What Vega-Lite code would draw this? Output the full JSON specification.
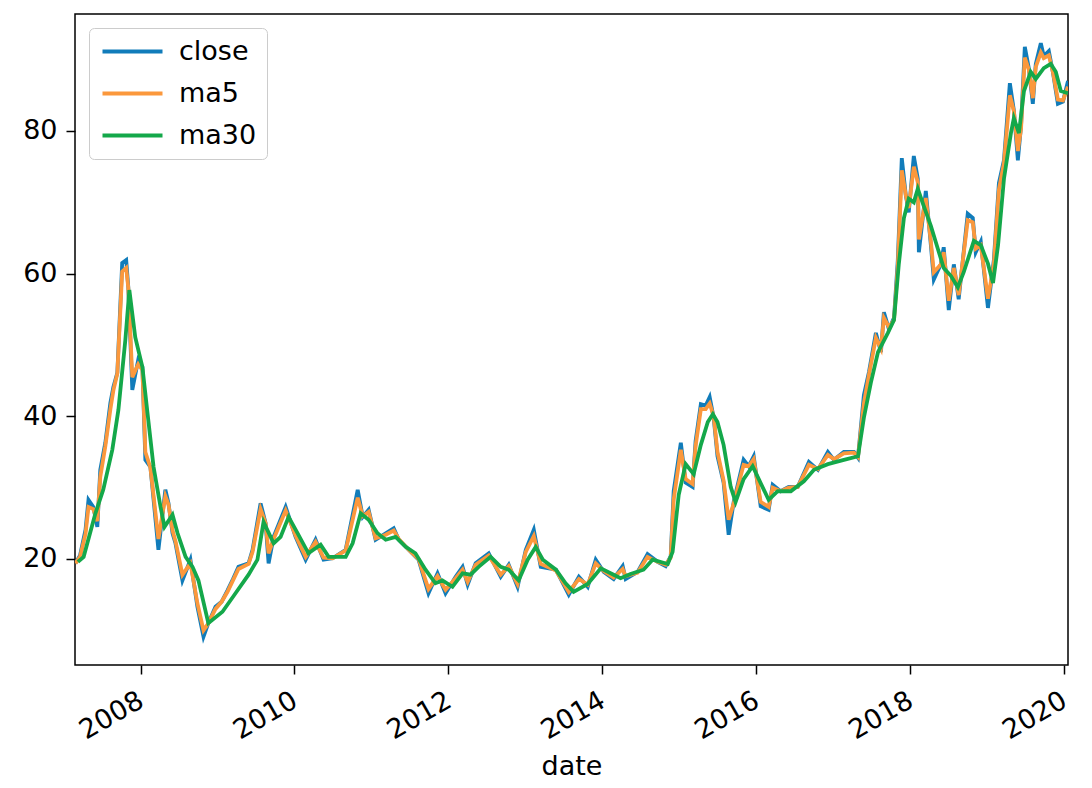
{
  "$schema": "https://vega.github.io/schema/vega-lite/v6.json",
  "width": 993,
  "height": 651,
  "autosize": "none",
  "padding": {"left": 75, "top": 14, "right": 24, "bottom": 123},
  "background": "white",
  "datasets": {
    "px": [
      {"date": "2007-02-26", "close": 19.4, "ma5": 19.4},
      {"date": "2007-03-20", "close": 20.5, "ma5": 20.3},
      {"date": "2007-04-15", "close": 24.1, "ma5": 23.5},
      {"date": "2007-04-29", "close": 28.3, "ma5": 27.3},
      {"date": "2007-05-22", "close": 27.3, "ma5": 27.0},
      {"date": "2007-06-10", "close": 24.5, "ma5": 25.3},
      {"date": "2007-06-24", "close": 32.5, "ma5": 31.5},
      {"date": "2007-07-18", "close": 36.3, "ma5": 35.8},
      {"date": "2007-08-11", "close": 41.9, "ma5": 41.0},
      {"date": "2007-08-25", "close": 44.1, "ma5": 43.6},
      {"date": "2007-09-13", "close": 46.1, "ma5": 46.0},
      {"date": "2007-10-06", "close": 61.5, "ma5": 60.3},
      {"date": "2007-10-25", "close": 61.9, "ma5": 60.8},
      {"date": "2007-11-04", "close": 58.1, "ma5": 58.0},
      {"date": "2007-11-23", "close": 43.7, "ma5": 45.5},
      {"date": "2007-12-21", "close": 47.9, "ma5": 47.3},
      {"date": "2008-01-10", "close": 46.9, "ma5": 46.5},
      {"date": "2008-01-24", "close": 33.9, "ma5": 35.0},
      {"date": "2008-02-17", "close": 32.9, "ma5": 32.8},
      {"date": "2008-03-26", "close": 21.3, "ma5": 22.8},
      {"date": "2008-04-28", "close": 29.7, "ma5": 28.8},
      {"date": "2008-05-13", "close": 27.8, "ma5": 27.6},
      {"date": "2008-06-01", "close": 23.6, "ma5": 24.0},
      {"date": "2008-06-15", "close": 22.2, "ma5": 22.5},
      {"date": "2008-07-18", "close": 17.0, "ma5": 17.8},
      {"date": "2008-08-25", "close": 19.9, "ma5": 19.4},
      {"date": "2008-09-27", "close": 13.3, "ma5": 13.8},
      {"date": "2008-10-26", "close": 9.1, "ma5": 10.0},
      {"date": "2008-11-18", "close": 11.0, "ma5": 11.0},
      {"date": "2008-12-22", "close": 13.3, "ma5": 13.0},
      {"date": "2009-01-20", "close": 14.0, "ma5": 14.0},
      {"date": "2009-02-17", "close": 15.6, "ma5": 15.4},
      {"date": "2009-03-15", "close": 17.2, "ma5": 17.0},
      {"date": "2009-04-10", "close": 18.9, "ma5": 18.6},
      {"date": "2009-05-28", "close": 19.4, "ma5": 19.3},
      {"date": "2009-06-16", "close": 21.3, "ma5": 21.0},
      {"date": "2009-07-24", "close": 27.8, "ma5": 27.0},
      {"date": "2009-08-17", "close": 25.0, "ma5": 25.0},
      {"date": "2009-08-31", "close": 19.4, "ma5": 20.8},
      {"date": "2009-09-24", "close": 23.1, "ma5": 22.8},
      {"date": "2009-11-20", "close": 27.3, "ma5": 26.8},
      {"date": "2010-01-06", "close": 23.1, "ma5": 23.3},
      {"date": "2010-02-23", "close": 19.9, "ma5": 20.3},
      {"date": "2010-04-11", "close": 22.7, "ma5": 22.4},
      {"date": "2010-05-19", "close": 19.9, "ma5": 20.2},
      {"date": "2010-07-01", "close": 20.1, "ma5": 20.1},
      {"date": "2010-09-01", "close": 21.3, "ma5": 21.2},
      {"date": "2010-10-28", "close": 29.7, "ma5": 28.6},
      {"date": "2010-11-21", "close": 25.9, "ma5": 26.0},
      {"date": "2010-12-19", "close": 26.9, "ma5": 26.6},
      {"date": "2011-01-21", "close": 22.7, "ma5": 22.9},
      {"date": "2011-03-10", "close": 23.6, "ma5": 23.4},
      {"date": "2011-04-17", "close": 24.3, "ma5": 24.0},
      {"date": "2011-05-11", "close": 22.7, "ma5": 22.8},
      {"date": "2011-06-27", "close": 21.3, "ma5": 21.3},
      {"date": "2011-08-13", "close": 19.9, "ma5": 20.0},
      {"date": "2011-09-29", "close": 15.2, "ma5": 15.8},
      {"date": "2011-11-11", "close": 18.0, "ma5": 17.6},
      {"date": "2011-12-19", "close": 15.2, "ma5": 15.7},
      {"date": "2012-02-05", "close": 17.5, "ma5": 17.3},
      {"date": "2012-03-09", "close": 18.9, "ma5": 18.5},
      {"date": "2012-04-02", "close": 16.4, "ma5": 16.8},
      {"date": "2012-05-10", "close": 19.4, "ma5": 19.2},
      {"date": "2012-07-11", "close": 20.8, "ma5": 20.5},
      {"date": "2012-09-06", "close": 17.5, "ma5": 17.8},
      {"date": "2012-10-14", "close": 19.2, "ma5": 19.0},
      {"date": "2012-11-25", "close": 16.1, "ma5": 16.5},
      {"date": "2013-01-03", "close": 21.3, "ma5": 21.0},
      {"date": "2013-02-10", "close": 24.1, "ma5": 23.2},
      {"date": "2013-03-15", "close": 18.9, "ma5": 19.3},
      {"date": "2013-05-26", "close": 18.5, "ma5": 18.4},
      {"date": "2013-07-26", "close": 15.0, "ma5": 15.4},
      {"date": "2013-09-12", "close": 17.5, "ma5": 17.2},
      {"date": "2013-10-24", "close": 16.1, "ma5": 16.4},
      {"date": "2013-12-01", "close": 19.9, "ma5": 19.4},
      {"date": "2014-01-08", "close": 18.2, "ma5": 18.3},
      {"date": "2014-02-24", "close": 17.2, "ma5": 17.4},
      {"date": "2014-04-08", "close": 19.0, "ma5": 18.6},
      {"date": "2014-04-22", "close": 17.2, "ma5": 17.6},
      {"date": "2014-06-18", "close": 18.2, "ma5": 18.1},
      {"date": "2014-08-04", "close": 20.7, "ma5": 20.3},
      {"date": "2014-09-21", "close": 19.6, "ma5": 19.6},
      {"date": "2014-10-29", "close": 19.0, "ma5": 19.2},
      {"date": "2014-11-22", "close": 20.4, "ma5": 20.2},
      {"date": "2014-12-06", "close": 29.5, "ma5": 28.3},
      {"date": "2015-01-09", "close": 36.3, "ma5": 35.3},
      {"date": "2015-02-01", "close": 30.7, "ma5": 31.2},
      {"date": "2015-03-06", "close": 30.1, "ma5": 30.5},
      {"date": "2015-03-20", "close": 36.5, "ma5": 35.8},
      {"date": "2015-04-14", "close": 41.7, "ma5": 41.0},
      {"date": "2015-05-07", "close": 41.5, "ma5": 41.0},
      {"date": "2015-05-26", "close": 42.7, "ma5": 41.8},
      {"date": "2015-06-14", "close": 39.8, "ma5": 40.0},
      {"date": "2015-07-02", "close": 34.4, "ma5": 35.0},
      {"date": "2015-07-31", "close": 30.7, "ma5": 31.0},
      {"date": "2015-08-24", "close": 23.4, "ma5": 25.5},
      {"date": "2015-09-17", "close": 28.0, "ma5": 27.8},
      {"date": "2015-11-03", "close": 33.9, "ma5": 33.2},
      {"date": "2015-11-27", "close": 33.0, "ma5": 33.0},
      {"date": "2015-12-21", "close": 34.4, "ma5": 34.0},
      {"date": "2016-01-23", "close": 27.4, "ma5": 28.0},
      {"date": "2016-03-01", "close": 26.9, "ma5": 27.3},
      {"date": "2016-03-20", "close": 30.4, "ma5": 30.0},
      {"date": "2016-04-27", "close": 29.5, "ma5": 29.5},
      {"date": "2016-06-04", "close": 30.1, "ma5": 30.0},
      {"date": "2016-07-17", "close": 30.1, "ma5": 30.1},
      {"date": "2016-09-08", "close": 33.6, "ma5": 33.2},
      {"date": "2016-10-21", "close": 32.5, "ma5": 32.6},
      {"date": "2016-12-07", "close": 35.0, "ma5": 34.6},
      {"date": "2017-01-05", "close": 33.9, "ma5": 34.0},
      {"date": "2017-02-21", "close": 35.0, "ma5": 34.8},
      {"date": "2017-04-10", "close": 35.0, "ma5": 34.9},
      {"date": "2017-04-29", "close": 34.2, "ma5": 34.3},
      {"date": "2017-05-27", "close": 43.0, "ma5": 41.8},
      {"date": "2017-06-20", "close": 46.2, "ma5": 45.8},
      {"date": "2017-07-23", "close": 51.7, "ma5": 51.0},
      {"date": "2017-08-16", "close": 49.0, "ma5": 49.5},
      {"date": "2017-08-30", "close": 54.6, "ma5": 53.8},
      {"date": "2017-09-23", "close": 52.2, "ma5": 52.5},
      {"date": "2017-10-17", "close": 53.8, "ma5": 53.5},
      {"date": "2017-11-04", "close": 61.9, "ma5": 61.0},
      {"date": "2017-11-23", "close": 76.2, "ma5": 74.5},
      {"date": "2017-12-12", "close": 71.0, "ma5": 71.0},
      {"date": "2017-12-26", "close": 68.6, "ma5": 69.2},
      {"date": "2018-01-19", "close": 76.5, "ma5": 75.0},
      {"date": "2018-02-07", "close": 73.3, "ma5": 72.8},
      {"date": "2018-02-12", "close": 63.0, "ma5": 64.8},
      {"date": "2018-03-17", "close": 71.6, "ma5": 70.6},
      {"date": "2018-04-10", "close": 64.0, "ma5": 64.5},
      {"date": "2018-04-24", "close": 59.2, "ma5": 60.2},
      {"date": "2018-05-27", "close": 61.3, "ma5": 61.3},
      {"date": "2018-06-10", "close": 63.7, "ma5": 63.0},
      {"date": "2018-07-04", "close": 54.9, "ma5": 56.2},
      {"date": "2018-07-28", "close": 61.3, "ma5": 60.8},
      {"date": "2018-08-20", "close": 56.4, "ma5": 57.0},
      {"date": "2018-10-02", "close": 68.4, "ma5": 67.5},
      {"date": "2018-10-26", "close": 67.8, "ma5": 67.2},
      {"date": "2018-11-09", "close": 63.0, "ma5": 63.5},
      {"date": "2018-12-03", "close": 64.5, "ma5": 64.0},
      {"date": "2019-01-06", "close": 55.2, "ma5": 56.5},
      {"date": "2019-02-03", "close": 61.9, "ma5": 61.3},
      {"date": "2019-02-27", "close": 72.7, "ma5": 71.8},
      {"date": "2019-03-23", "close": 75.9, "ma5": 75.5},
      {"date": "2019-04-20", "close": 86.7, "ma5": 85.0},
      {"date": "2019-05-09", "close": 82.9, "ma5": 82.8},
      {"date": "2019-05-28", "close": 75.9, "ma5": 77.2},
      {"date": "2019-06-12", "close": 80.7, "ma5": 80.3},
      {"date": "2019-06-30", "close": 91.8, "ma5": 90.3},
      {"date": "2019-07-19", "close": 88.8, "ma5": 88.6},
      {"date": "2019-08-07", "close": 83.8, "ma5": 84.6},
      {"date": "2019-08-21", "close": 89.4, "ma5": 89.0},
      {"date": "2019-09-14", "close": 92.3, "ma5": 91.0},
      {"date": "2019-09-28", "close": 90.5, "ma5": 90.2},
      {"date": "2019-10-22", "close": 91.2, "ma5": 90.6},
      {"date": "2019-11-10", "close": 88.3, "ma5": 88.3},
      {"date": "2019-12-04", "close": 83.8, "ma5": 84.4},
      {"date": "2019-12-28", "close": 84.1, "ma5": 84.3},
      {"date": "2020-01-21", "close": 87.0, "ma5": 86.2}
    ],
    "ma": [
      {"date": "2007-03-10", "ma30": 19.6},
      {"date": "2007-04-06", "ma30": 20.3},
      {"date": "2007-06-01", "ma30": 26.4},
      {"date": "2007-07-08", "ma30": 29.7},
      {"date": "2007-08-20", "ma30": 35.3},
      {"date": "2007-09-18", "ma30": 40.9},
      {"date": "2007-10-21", "ma30": 50.7},
      {"date": "2007-11-09", "ma30": 57.7},
      {"date": "2007-12-07", "ma30": 51.1},
      {"date": "2008-01-10", "ma30": 46.9},
      {"date": "2008-02-03", "ma30": 40.5},
      {"date": "2008-03-03", "ma30": 32.9},
      {"date": "2008-04-05", "ma30": 27.3},
      {"date": "2008-04-24", "ma30": 24.5},
      {"date": "2008-06-01", "ma30": 26.2},
      {"date": "2008-06-25", "ma30": 23.6},
      {"date": "2008-08-02", "ma30": 20.3},
      {"date": "2008-09-04", "ma30": 18.9},
      {"date": "2008-10-02", "ma30": 17.0},
      {"date": "2008-11-18", "ma30": 11.0},
      {"date": "2009-01-24", "ma30": 12.6},
      {"date": "2009-03-27", "ma30": 15.2},
      {"date": "2009-05-28", "ma30": 17.8},
      {"date": "2009-07-09", "ma30": 19.9},
      {"date": "2009-08-07", "ma30": 25.2},
      {"date": "2009-09-24", "ma30": 22.2},
      {"date": "2009-10-27", "ma30": 23.1},
      {"date": "2009-12-04", "ma30": 25.9},
      {"date": "2010-01-16", "ma30": 23.6},
      {"date": "2010-03-08", "ma30": 20.8},
      {"date": "2010-05-05", "ma30": 22.0},
      {"date": "2010-06-12", "ma30": 20.3},
      {"date": "2010-09-01", "ma30": 20.3},
      {"date": "2010-10-04", "ma30": 22.2},
      {"date": "2010-11-11", "ma30": 26.4},
      {"date": "2010-12-19", "ma30": 25.5},
      {"date": "2011-01-30", "ma30": 23.6},
      {"date": "2011-03-10", "ma30": 22.7},
      {"date": "2011-04-26", "ma30": 23.1},
      {"date": "2011-06-13", "ma30": 21.7},
      {"date": "2011-07-29", "ma30": 20.8},
      {"date": "2011-09-15", "ma30": 18.5},
      {"date": "2011-11-01", "ma30": 16.6},
      {"date": "2011-12-04", "ma30": 17.0},
      {"date": "2012-01-21", "ma30": 16.1},
      {"date": "2012-03-09", "ma30": 18.0},
      {"date": "2012-04-16", "ma30": 17.8},
      {"date": "2012-05-24", "ma30": 18.9},
      {"date": "2012-07-20", "ma30": 20.3},
      {"date": "2012-09-06", "ma30": 18.9},
      {"date": "2012-10-14", "ma30": 18.5},
      {"date": "2012-11-30", "ma30": 17.0},
      {"date": "2013-01-12", "ma30": 19.9},
      {"date": "2013-02-19", "ma30": 21.7},
      {"date": "2013-03-25", "ma30": 19.9},
      {"date": "2013-05-26", "ma30": 18.5},
      {"date": "2013-07-11", "ma30": 16.6},
      {"date": "2013-08-18", "ma30": 15.4},
      {"date": "2013-10-24", "ma30": 16.5},
      {"date": "2013-12-25", "ma30": 18.7},
      {"date": "2014-02-24", "ma30": 17.8},
      {"date": "2014-03-29", "ma30": 17.3},
      {"date": "2014-05-15", "ma30": 17.9},
      {"date": "2014-07-16", "ma30": 18.5},
      {"date": "2014-08-28", "ma30": 19.9},
      {"date": "2014-11-08", "ma30": 19.3},
      {"date": "2014-12-01", "ma30": 21.0},
      {"date": "2014-12-30", "ma30": 29.0},
      {"date": "2015-02-01", "ma30": 33.3},
      {"date": "2015-03-11", "ma30": 31.9},
      {"date": "2015-04-14", "ma30": 36.0},
      {"date": "2015-05-17", "ma30": 39.2},
      {"date": "2015-06-10", "ma30": 40.3},
      {"date": "2015-07-02", "ma30": 39.2},
      {"date": "2015-07-31", "ma30": 36.0},
      {"date": "2015-09-03", "ma30": 30.1},
      {"date": "2015-09-26", "ma30": 28.0},
      {"date": "2015-11-03", "ma30": 31.2},
      {"date": "2015-12-16", "ma30": 33.0},
      {"date": "2016-01-14", "ma30": 31.2},
      {"date": "2016-03-01", "ma30": 28.3},
      {"date": "2016-04-13", "ma30": 29.5},
      {"date": "2016-06-14", "ma30": 29.5},
      {"date": "2016-08-15", "ma30": 30.9},
      {"date": "2016-10-02", "ma30": 32.5},
      {"date": "2016-12-07", "ma30": 33.3},
      {"date": "2017-02-21", "ma30": 33.9},
      {"date": "2017-04-29", "ma30": 34.4},
      {"date": "2017-05-27", "ma30": 39.8},
      {"date": "2017-06-29", "ma30": 44.7},
      {"date": "2017-08-02", "ma30": 49.0},
      {"date": "2017-09-18", "ma30": 51.7},
      {"date": "2017-10-17", "ma30": 53.5},
      {"date": "2017-11-09", "ma30": 61.4},
      {"date": "2017-12-03", "ma30": 67.8},
      {"date": "2017-12-26", "ma30": 70.5},
      {"date": "2018-01-19", "ma30": 70.0},
      {"date": "2018-02-07", "ma30": 71.9},
      {"date": "2018-03-07", "ma30": 69.5},
      {"date": "2018-04-10", "ma30": 66.7},
      {"date": "2018-05-13", "ma30": 63.5},
      {"date": "2018-06-10", "ma30": 60.8},
      {"date": "2018-07-14", "ma30": 59.7},
      {"date": "2018-08-16", "ma30": 58.1},
      {"date": "2018-09-13", "ma30": 60.2},
      {"date": "2018-10-31", "ma30": 64.6},
      {"date": "2018-12-03", "ma30": 64.0},
      {"date": "2019-01-06", "ma30": 61.4},
      {"date": "2019-01-30", "ma30": 58.7},
      {"date": "2019-02-23", "ma30": 64.0},
      {"date": "2019-03-23", "ma30": 73.3},
      {"date": "2019-04-25", "ma30": 79.7},
      {"date": "2019-05-09", "ma30": 81.8},
      {"date": "2019-06-02", "ma30": 79.7},
      {"date": "2019-06-26", "ma30": 85.6},
      {"date": "2019-07-28", "ma30": 88.3},
      {"date": "2019-08-21", "ma30": 87.3},
      {"date": "2019-09-28", "ma30": 88.8},
      {"date": "2019-10-31", "ma30": 89.4},
      {"date": "2019-11-24", "ma30": 88.3},
      {"date": "2019-12-18", "ma30": 85.6},
      {"date": "2020-01-21", "ma30": 85.3}
    ]
  },
  "encoding": {
    "x": {
      "field": "date",
      "type": "temporal",
      "title": "date",
      "scale": {"type": "utc", "domain": ["2007-02-24", "2020-01-21"], "nice": false},
      "axis": {
        "tickCount": {"interval": "year", "step": 2},
        "format": "%Y",
        "labelAngle": -30,
        "labelAlign": "right",
        "labelBaseline": "top",
        "labelPadding": 13,
        "labelOffset": -6,
        "titlePadding": 10
      }
    }
  },
  "layer": [
    {
      "data": {"name": "px"},
      "mark": {"type": "line", "strokeWidth": 3.8, "clip": true},
      "encoding": {
        "y": {"field": "close", "type": "quantitative"},
        "color": {"datum": "close"}
      }
    },
    {
      "data": {"name": "px"},
      "mark": {"type": "line", "strokeWidth": 3.8, "clip": true},
      "encoding": {
        "y": {"field": "ma5", "type": "quantitative"},
        "color": {"datum": "ma5"}
      }
    },
    {
      "data": {"name": "ma"},
      "mark": {"type": "line", "strokeWidth": 3.8, "clip": true},
      "encoding": {
        "y": {
          "field": "ma30",
          "type": "quantitative",
          "title": null,
          "scale": {"domain": [5.14, 96.4], "nice": false, "zero": false},
          "axis": {"values": [20, 40, 60, 80]}
        },
        "color": {
          "datum": "ma30",
          "type": "nominal",
          "scale": {"domain": ["close", "ma5", "ma30"], "range": ["#117cba", "#fb983c", "#14a84a"]},
          "legend": {
            "title": null,
            "orient": "top-left",
            "offset": 14,
            "padding": 10,
            "symbolType": "M-1,0H5",
            "symbolSize": 400,
            "symbolStrokeWidth": 4,
            "labelFontSize": 27,
            "labelOffset": 53,
            "rowPadding": 14,
            "fillColor": "white",
            "strokeColor": "#cccccc",
            "cornerRadius": 5
          }
        }
      }
    }
  ],
  "resolve": {"scale": {"y": "shared", "color": "shared"}},
  "config": {
    "font": "DejaVu Sans",
    "view": {"stroke": "black", "strokeWidth": 1.5},
    "axis": {
      "domain": false,
      "grid": false,
      "ticks": true,
      "tickColor": "black",
      "tickWidth": 1.5,
      "tickSize": 9,
      "labelFontSize": 27,
      "labelColor": "black",
      "labelFont": "DejaVu Sans",
      "titleFontSize": 27,
      "titleFontWeight": "normal",
      "titleColor": "black",
      "titleFont": "DejaVu Sans"
    },
    "axisY": {"labelPadding": 9},
    "legend": {"labelColor": "black", "labelFont": "DejaVu Sans"}
  }
}
